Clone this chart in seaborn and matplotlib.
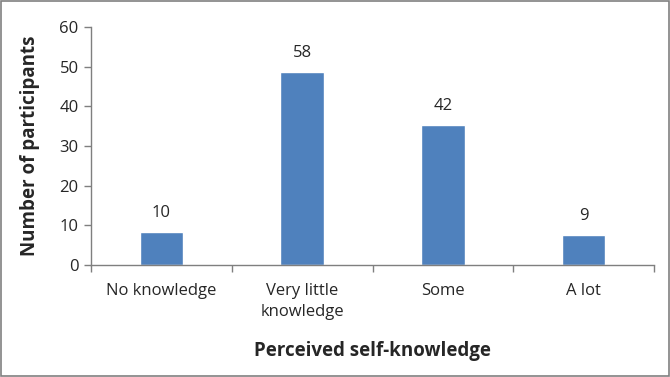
import seaborn as sns
import pandas as pd
import matplotlib.pyplot as plt
from matplotlib.patches import Rectangle

# data
categories = ["No knowledge", "Very little\nknowledge", "Some", "A lot"]
counts = [10, 58, 42, 9]           # labels shown above the bars
bar_heights = [8.4, 48.7, 35.3, 7.6]  # bar tops as drawn on the axis

sns.set_style("white")
plt.rcParams['font.family'] = ['Open Sans', 'DejaVu Sans']

df = pd.DataFrame({"cat": categories, "h": bar_heights})

fig = plt.figure(figsize=(6.7, 3.77), dpi=100)
ax = fig.add_axes([0.136, 0.297, 0.840, 0.631])

sns.barplot(data=df, x="cat", y="h", color="#4F81BD", width=0.31,
            saturation=1, ax=ax)
ax.bar_label(ax.containers[0], labels=[str(c) for c in counts],
             padding=8, fontsize=12, color="#262626")

ax.set_ylim(0, 60)
ax.set_yticks(range(0, 61, 10))
ax.set_xlim(-0.5, 3.5)
ax.set_xticks([-0.5, 0.5, 1.5, 2.5, 3.5], minor=True)
ax.tick_params(axis="x", which="major", length=0, pad=13,
               labelsize=12, labelcolor="#262626")
ax.tick_params(axis="x", which="minor", length=5, width=1, color="#7f7f7f",
               direction="out", bottom=True)
ax.tick_params(axis="y", length=5, width=1, color="#7f7f7f", direction="out",
               left=True, labelsize=12, labelcolor="#262626", pad=4)
for t in ax.get_xticklabels():
    t.set_linespacing(1.45)

sns.despine(ax=ax)
for s in ["left", "bottom"]:
    ax.spines[s].set_color("#7f7f7f")
    ax.spines[s].set_linewidth(1)

ax.set_xlabel("Perceived self-knowledge", fontsize=13.5, fontweight="bold",
              color="#262626", labelpad=15)
ax.set_ylabel("Number of participants", fontsize=13.5, fontweight="bold",
              color="#262626", labelpad=14)

fig.patches.append(Rectangle((0.002, 0.003), 0.996, 0.994,
                             transform=fig.transFigure, fill=False,
                             edgecolor="#808080", linewidth=1.2))

fig.savefig("out.png", dpi=100)
